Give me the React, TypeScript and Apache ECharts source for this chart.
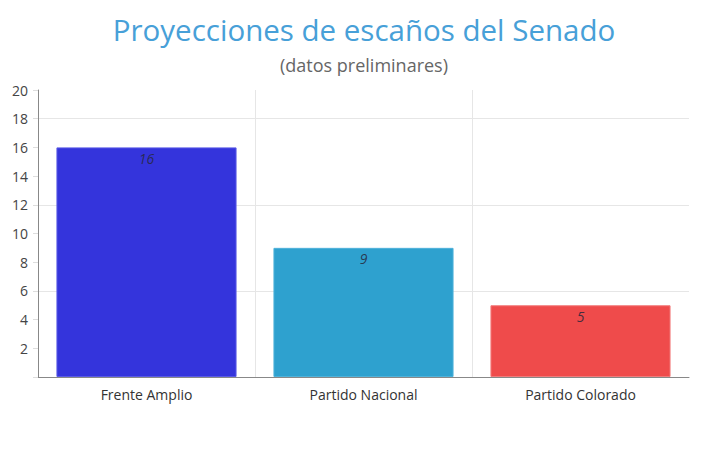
import React, { useEffect, useRef } from "react";
import * as echarts from "echarts";

const categories = ["Frente Amplio", "Partido Nacional", "Partido Colorado"];
const seats = [16, 9, 5];
const barColors = ["#3434DC", "#2EA1CF", "#EF4B4B"];
const barBorders = ["#5a5ae6", "#4fb2da", "#f27a7a"];
const gridLinesAt = [6, 12, 18];
const categoryBoundaries = [1, 2];
const titleText = "Proyecciones de escaños del Senado";
const subtitleText = "(datos preliminares)";

export default function App() {
  const ref = useRef<HTMLDivElement>(null);
  useEffect(() => {
    document.body.style.margin = "0";
    if (!ref.current) return;
    const chart = echarts.init(ref.current, null, { renderer: "svg" });
    const font = "'Open Sans', 'Noto Sans', sans-serif";
    const gridLine = { color: "#e6e6e6", type: "solid", width: 1 };
    chart.setOption({
      animation: false,
      backgroundColor: "#ffffff",
      textStyle: { fontFamily: font },
      title: [
        {
          text: titleText,
          left: "center",
          top: 9,
          textStyle: { fontFamily: font, fontSize: 29.5, fontWeight: "normal", color: "#47A0D8" },
        },
        {
          text: subtitleText,
          left: "center",
          top: 51,
          textStyle: { fontFamily: font, fontSize: 18, fontWeight: "normal", color: "#666666" },
        },
      ],
      grid: { left: 38, right: 39, top: 90, bottom: 73, containLabel: false },
      xAxis: [
        {
          type: "category",
          data: categories,
          axisLine: { show: true, lineStyle: { color: "#888888", width: 1 } },
          axisTick: { show: false },
          axisLabel: { color: "#333333", fontSize: 14, margin: 10, fontFamily: font },
          splitLine: { show: false },
        },
        {
          type: "value",
          min: 0,
          max: categories.length,
          show: false,
        },
      ],
      yAxis: {
        type: "value",
        min: 0,
        max: 20,
        interval: 2,
        axisLine: { show: true, lineStyle: { color: "#888888", width: 1 } },
        axisTick: { show: true, length: 5, lineStyle: { color: "#dddddd" } },
        axisLabel: {
          color: "#444444",
          fontSize: 14,
          margin: 10,
          fontFamily: font,
          formatter: (v: number) => (v === 0 ? "" : String(v)),
        },
        splitLine: { show: false },
      },
      series: [
        {
          type: "bar",
          xAxisIndex: 0,
          data: seats.map((v, i) => ({
            value: v,
            itemStyle: { color: barColors[i], borderColor: barBorders[i], borderWidth: 1 },
          })),
          barCategoryGap: "17%",
          z: 2,
          label: {
            show: true,
            position: "insideTop",
            distance: 4,
            fontStyle: "italic",
            fontSize: 14,
            color: "rgba(40,40,60,0.85)",
            fontFamily: font,
          },
          markLine: {
            silent: true,
            symbol: "none",
            label: { show: false },
            lineStyle: gridLine,
            z: 0,
            data: gridLinesAt.map((v) => ({ yAxis: v })),
          },
        },
        {
          type: "scatter",
          xAxisIndex: 1,
          data: [],
          z: 0,
          markLine: {
            silent: true,
            symbol: "none",
            label: { show: false },
            lineStyle: gridLine,
            z: 0,
            data: categoryBoundaries.map((v) => ({ xAxis: v })),
          },
        },
      ],
    });
    return () => chart.dispose();
  }, []);
  return <div ref={ref} style={{ width: 728, height: 450 }} />;
}
